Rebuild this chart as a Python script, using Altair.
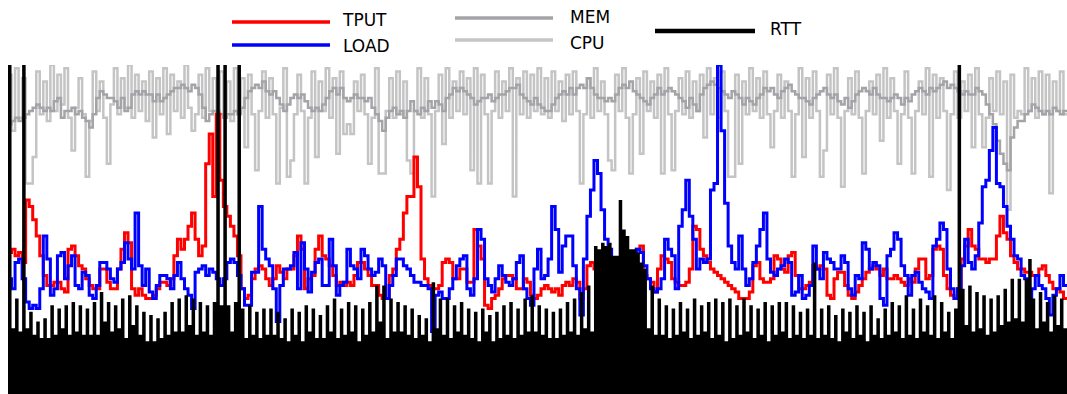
import altair as alt
import pandas as pd

SERIES = ["TPUT", "LOAD", "MEM", "CPU", "RTT"]
N = 300

TPUT = [
    43, 44, 42, 43, 40, 59, 57, 53, 48, 42,
    36, 33, 33, 34, 34, 32, 31, 44, 45, 42,
    39, 38, 35, 33, 32, 32, 38, 38, 34, 32,
    32, 38, 44, 49, 46, 32, 30, 32, 30, 29,
    29, 30, 32, 34, 34, 33, 35, 42, 47, 44,
    47, 51, 55, 47, 42, 45, 70, 79, 60, 85,
    65, 57, 54, 51, 48, 42, 32, 29, 30, 35,
    38, 39, 38, 35, 33, 35, 39, 37, 35, 38,
    38, 42, 48, 44, 32, 35, 36, 44, 48, 42,
    41, 39, 36, 33, 34, 33, 34, 33, 36, 40,
    40, 38, 36, 33, 33, 30, 29, 29, 36, 38,
    44, 47, 55, 60, 60, 72, 63, 41, 35, 33,
    32, 32, 33, 40, 41, 40, 35, 35, 38, 38,
    34, 34, 50, 45, 41, 27, 26, 29, 30, 32,
    35, 36, 36, 35, 32, 32, 35, 34, 30, 29,
    30, 32, 33, 32, 31, 32, 30, 33, 34, 33,
    35, 34, 29, 32, 39, 40, 38, 38, 39, 40,
    41, 40, 39, 40, 40, 41, 41, 42, 44, 45,
    36, 35, 34, 31, 38, 42, 41, 40, 35, 34,
    33, 33, 34, 38, 51, 50, 44, 42, 40, 38,
    37, 36, 35, 34, 33, 32, 31, 29, 29, 29,
    31, 39, 40, 35, 34, 34, 35, 42, 41, 38,
    37, 42, 43, 36, 32, 32, 33, 34, 39, 38,
    39, 38, 30, 29, 35, 37, 37, 33, 30, 29,
    31, 33, 35, 37, 38, 39, 38, 36, 38, 35,
    35, 36, 35, 34, 33, 35, 34, 38, 41, 41,
    35, 36, 44, 45, 44, 36, 32, 30, 29, 32,
    41, 45, 50, 45, 44, 41, 41, 40, 41, 41,
    48, 54, 49, 47, 42, 40, 38, 38, 37, 37,
    36, 36, 38, 39, 36, 34, 32, 32, 31, 29,
]

LOAD = [
    35, 32, 40, 41, 35, 28, 26, 27, 26, 32,
    48, 41, 30, 32, 42, 43, 35, 39, 42, 33,
    32, 37, 36, 30, 29, 33, 40, 40, 38, 35,
    34, 38, 40, 46, 41, 38, 55, 39, 33, 38,
    31, 29, 33, 36, 36, 35, 32, 36, 40, 35,
    32, 30, 26, 37, 38, 39, 36, 38, 37, 35,
    33, 35, 40, 41, 40, 36, 32, 27, 27, 37,
    37, 57, 44, 41, 39, 32, 22, 33, 38, 38,
    39, 43, 32, 46, 38, 31, 37, 40, 41, 33,
    33, 47, 39, 30, 33, 34, 44, 39, 38, 35,
    44, 42, 38, 36, 37, 41, 39, 29, 33, 36,
    41, 41, 39, 38, 36, 34, 34, 33, 33, 32,
    19, 30, 31, 29, 29, 32, 35, 39, 41, 42,
    32, 30, 35, 50, 47, 35, 33, 31, 35, 39,
    36, 34, 33, 35, 40, 42, 32, 29, 27, 38,
    44, 35, 36, 41, 57, 50, 37, 45, 48, 48,
    39, 32, 24, 41, 54, 62, 71, 67, 56, 47,
    44, 41, 40, 36, 38, 40, 40, 41, 44, 43,
    39, 35, 32, 31, 32, 35, 47, 44, 42, 32,
    51, 56, 65, 54, 47, 38, 41, 40, 41, 62,
    64, 100, 80, 58, 45, 40, 38, 48, 38, 33,
    35, 40, 45, 50, 55, 41, 37, 36, 38, 39,
    41, 40, 30, 31, 36, 29, 30, 33, 45, 38,
    35, 43, 41, 40, 38, 38, 42, 40, 32, 30,
    36, 35, 46, 44, 38, 40, 39, 29, 27, 42,
    44, 49, 47, 39, 36, 30, 36, 37, 34, 32,
    31, 29, 45, 47, 52, 50, 38, 32, 29, 32,
    39, 47, 40, 38, 42, 52, 63, 65, 74, 81,
    64, 63, 57, 51, 47, 42, 41, 36, 35, 29,
    32, 36, 33, 32, 29, 24, 30, 32, 36, 33,
]

MEM = [
    82, 83, 84, 83, 84, 85, 86, 87, 88, 87,
    86, 87, 86, 89, 90, 84, 86, 86, 87, 85,
    86, 84, 83, 81, 85, 90, 92, 91, 90, 90,
    89, 87, 90, 86, 87, 91, 92, 91, 92, 91,
    91, 89, 91, 89, 90, 91, 92, 93, 93, 94,
    93, 92, 94, 93, 91, 87, 83, 85, 86, 86,
    85, 84, 85, 85, 86, 85, 87, 90, 92, 93,
    94, 93, 95, 92, 91, 92, 90, 88, 86, 88,
    90, 91, 90, 91, 89, 87, 86, 87, 86, 88,
    90, 92, 93, 91, 93, 90, 89, 90, 91, 90,
    90, 89, 90, 87, 85, 83, 80, 84, 86, 87,
    85, 86, 84, 86, 89, 86, 85, 87, 86, 89,
    87, 89, 88, 86, 90, 91, 93, 92, 93, 92,
    91, 90, 88, 89, 90, 90, 91, 89, 90, 91,
    91, 92, 93, 93, 94, 91, 90, 89, 88, 90,
    88, 87, 86, 86, 88, 90, 91, 92, 91, 93,
    91, 93, 94, 93, 96, 93, 91, 90, 90, 89,
    90, 89, 91, 93, 94, 93, 95, 92, 91, 90,
    89, 88, 90, 91, 93, 91, 92, 93, 92, 91,
    90, 89, 87, 90, 88, 86, 91, 93, 94, 95,
    94, 93, 92, 91, 90, 92, 91, 90, 88, 90,
    89, 88, 90, 91, 93, 92, 93, 91, 90, 92,
    93, 94, 92, 91, 90, 90, 89, 88, 90, 91,
    92, 93, 91, 90, 91, 89, 88, 90, 87, 89,
    91, 92, 93, 92, 91, 93, 91, 90, 90, 89,
    90, 91, 90, 88, 90, 89, 91, 92, 93, 92,
    91, 93, 92, 93, 94, 95, 93, 94, 93, 92,
    91, 92, 91, 91, 93, 92, 91, 88, 85, 82,
    77, 73, 70, 68, 78, 81, 83, 83, 85, 86,
    88, 87, 86, 85, 86, 85, 87, 86, 85, 86,
]

CPU = [
    97, 80, 99, 84, 96, 64, 64, 72, 98, 85,
    95, 83, 100, 86, 97, 88, 99, 84, 74, 87,
    96, 85, 66, 83, 98, 86, 95, 84, 70, 88,
    99, 85, 96, 87, 100, 84, 97, 86, 95, 83,
    98, 78, 96, 85, 99, 79, 97, 86, 95, 84,
    100, 87, 80, 85, 97, 84, 99, 86, 96, 82,
    98, 84, 95, 83, 99, 86, 96, 75, 97, 85,
    68, 86, 98, 84, 96, 85, 64, 87, 99, 66,
    71, 85, 97, 86, 64, 84, 98, 72, 95, 86,
    99, 84, 96, 73, 98, 79, 82, 79, 95, 86,
    97, 85, 70, 84, 99, 67, 67, 86, 96, 84,
    98, 85, 95, 71, 67, 86, 99, 84, 96, 85,
    60, 86, 97, 76, 99, 84, 95, 86, 98, 85,
    96, 68, 99, 64, 97, 85, 64, 86, 98, 84,
    95, 86, 99, 60, 96, 85, 98, 84, 97, 86,
    99, 85, 96, 84, 98, 86, 95, 83, 97, 85,
    98, 86, 64, 85, 96, 84, 99, 86, 95, 85,
    71, 68, 97, 86, 99, 84, 67, 85, 96, 73,
    98, 86, 95, 84, 97, 67, 99, 85, 68, 86,
    96, 85, 98, 84, 95, 86, 97, 78, 99, 85,
    96, 84, 98, 86, 66, 66, 97, 70, 95, 85,
    99, 86, 96, 84, 98, 85, 75, 86, 97, 84,
    95, 86, 66, 85, 99, 72, 96, 84, 98, 86,
    66, 74, 97, 85, 99, 84, 63, 86, 96, 85,
    98, 84, 67, 86, 95, 85, 97, 77, 99, 84,
    96, 86, 70, 85, 98, 84, 67, 86, 95, 85,
    99, 66, 97, 84, 96, 86, 62, 85, 98, 84,
    95, 86, 97, 75, 99, 85, 75, 84, 96, 86,
    98, 85, 95, 56, 97, 84, 86, 85, 99, 86,
    96, 84, 98, 85, 97, 61, 95, 86, 98, 85,
]

RTT = [
    100, 20, 29, 19, 100, 20, 25, 18, 22, 17,
    23, 17, 27, 18, 26, 20, 27, 18, 28, 19,
    27, 18, 26, 18, 28, 18, 31, 22, 28, 19,
    27, 20, 29, 17, 30, 21, 27, 18, 25, 16,
    24, 16, 23, 17, 25, 18, 28, 19, 29, 19,
    30, 21, 29, 18, 28, 19, 27, 18, 28, 100,
    27, 100, 27, 19, 28, 100, 26, 17, 27, 18,
    25, 17, 26, 18, 26, 18, 25, 17, 23, 16,
    26, 18, 25, 16, 27, 19, 26, 17, 24, 17,
    27, 19, 29, 17, 26, 18, 28, 19, 27, 16,
    26, 18, 28, 19, 33, 22, 33, 17, 29, 19,
    28, 19, 27, 18, 26, 17, 24, 18, 23, 16,
    34, 20, 29, 18, 29, 17, 27, 19, 28, 18,
    26, 17, 25, 16, 26, 19, 24, 16, 25, 17,
    27, 18, 28, 17, 26, 18, 29, 19, 30, 19,
    27, 18, 26, 17, 25, 17, 26, 18, 28, 19,
    29, 18, 31, 20, 33, 19, 45, 44, 46, 45,
    46, 42, 42, 59, 50, 48, 44, 44, 43, 40,
    38, 20, 33, 18, 29, 18, 27, 17, 26, 18,
    28, 19, 26, 17, 29, 18, 27, 19, 28, 17,
    29, 18, 28, 16, 29, 17, 27, 18, 29, 19,
    27, 17, 26, 18, 28, 16, 27, 18, 28, 19,
    28, 17, 27, 18, 25, 17, 26, 18, 40, 17,
    26, 18, 27, 17, 24, 16, 26, 19, 25, 17,
    27, 18, 25, 16, 27, 18, 23, 17, 26, 18,
    28, 19, 27, 17, 30, 18, 26, 17, 29, 19,
    27, 18, 30, 17, 28, 19, 25, 17, 26, 100,
    32, 21, 33, 19, 31, 20, 30, 18, 29, 19,
    30, 21, 32, 22, 35, 23, 35, 22, 35, 41,
    29, 20, 31, 22, 28, 19, 30, 21, 29, 20,
]

COLORS = {"TPUT": "#ff0000", "LOAD": "#0000ff", "MEM": "#a4a4a8",
          "CPU": "#c4c4c4", "RTT": "#000000"}


def frame(vals):
    ts = list(range(len(vals))) + [len(vals)]
    vs = list(vals) + [vals[-1]]
    return pd.DataFrame({"t": ts, "v": vs})


X = alt.X("t:Q", scale=alt.Scale(domain=[0, N], nice=False, zero=False), axis=None)
Y = alt.Y("v:Q", scale=alt.Scale(domain=[0, 100], nice=False), axis=None)


def line(vals, name, width):
    return alt.Chart(frame(vals)).mark_line(
        interpolate="step-after", color=COLORS[name], strokeWidth=width, clip=True
    ).encode(x=X, y=Y)


cpu = line(CPU, "CPU", 2.5)
mem = line(MEM, "MEM", 2.5)
tput = line(TPUT, "TPUT", 3)
load = line(LOAD, "LOAD", 3)
rtt = alt.Chart(frame(RTT)).mark_area(
    interpolate="step-after", color=COLORS["RTT"], clip=True
).encode(x=X, y=Y)


def legend_line(name, x1, x2, y, w):
    return alt.Chart(pd.DataFrame({"series": [name]})).mark_rule(
        color=COLORS[name], strokeWidth=w
    ).encode(x=alt.value(x1), x2=alt.value(x2), y=alt.value(y))


def legend_text(name, x, y):
    return alt.Chart(pd.DataFrame({"series": [name]})).mark_text(
        align="left", baseline="middle", fontSize=17, font="DejaVu Sans", color="black"
    ).encode(x=alt.value(x), y=alt.value(y), text="series:N")


legend = [
    legend_line("TPUT", 224, 322, -43, 3.5), legend_text("TPUT", 335, -44),
    legend_line("LOAD", 224, 322, -20, 3.5), legend_text("LOAD", 335, -18),
    legend_line("MEM", 447, 545, -47, 3.5), legend_text("MEM", 562, -47),
    legend_line("CPU", 447, 545, -25, 3.5), legend_text("CPU", 562, -21),
    legend_line("RTT", 647, 747, -34, 4.5), legend_text("RTT", 762, -35),
]

chart = alt.layer(cpu, mem, tput, load, rtt, *legend).properties(
    width=1059,
    height=329,
    padding={"left": 8, "top": 65, "right": 0, "bottom": 0},
    autosize=alt.AutoSizeParams(type="none"),
    background="white",
).configure_view(stroke=None)

chart.save("out.html", embed_options={"renderer": "svg", "actions": False})
